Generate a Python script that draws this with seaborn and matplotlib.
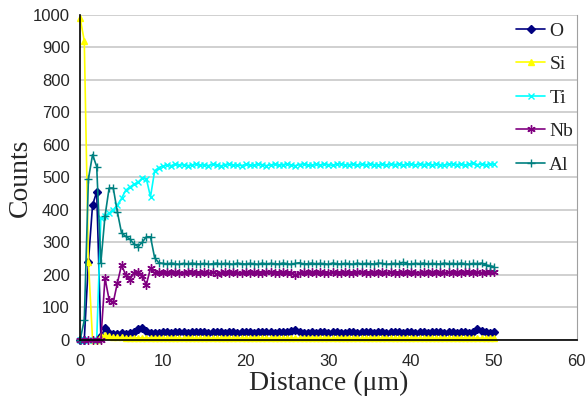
import numpy as np
import pandas as pd
import seaborn as sns
import matplotlib.pyplot as plt

# Line scan data, step 0.5 um
distance = [0.0, 0.5, 1.0, 1.5, 2.0, 2.5, 3.0, 3.5, 4.0, 4.5,
            5.0, 5.5, 6.0, 6.5, 7.0, 7.5, 8.0, 8.5, 9.0, 9.5,
            10.0, 10.5, 11.0, 11.5, 12.0, 12.5, 13.0, 13.5, 14.0, 14.5,
            15.0, 15.5, 16.0, 16.5, 17.0, 17.5, 18.0, 18.5, 19.0, 19.5,
            20.0, 20.5, 21.0, 21.5, 22.0, 22.5, 23.0, 23.5, 24.0, 24.5,
            25.0, 25.5, 26.0, 26.5, 27.0, 27.5, 28.0, 28.5, 29.0, 29.5,
            30.0, 30.5, 31.0, 31.5, 32.0, 32.5, 33.0, 33.5, 34.0, 34.5,
            35.0, 35.5, 36.0, 36.5, 37.0, 37.5, 38.0, 38.5, 39.0, 39.5,
            40.0, 40.5, 41.0, 41.5, 42.0, 42.5, 43.0, 43.5, 44.0, 44.5,
            45.0, 45.5, 46.0, 46.5, 47.0, 47.5, 48.0, 48.5, 49.0, 49.5,
            50.0]

O = [0, 0, 240, 415, 455, 10, 35, 20, 18, 18,
     20, 18, 22, 25, 32, 35, 28, 22, 20, 22,
     23, 24, 22, 25, 23, 24, 22, 23, 25, 24,
     23, 22, 24, 23, 25, 22, 23, 24, 22, 23,
     24, 23, 22, 24, 23, 25, 23, 22, 24, 23,
     24, 26, 30, 25, 22, 21, 23, 22, 24, 23,
     22, 24, 23, 22, 21, 23, 24, 22, 23, 25,
     23, 22, 24, 23, 22, 24, 23, 25, 22, 23,
     24, 22, 23, 24, 22, 23, 25, 23, 22, 24,
     23, 22, 24, 23, 22, 25, 32, 26, 23, 22,
     23]

Si = [990, 920, 240, 0, 0, 12, 14, 10, 8, 7,
      7, 6, 6, 5, 6, 5, 5, 6, 5, 5,
      5, 4, 5, 6, 5, 4, 5, 5, 4, 5,
      4, 5, 5, 4, 5, 6, 5, 4, 5, 5,
      5, 4, 5, 5, 4, 5, 5, 6, 4, 5,
      4, 5, 5, 4, 5, 5, 6, 5, 4, 5,
      5, 4, 5, 5, 6, 4, 5, 5, 4, 5,
      5, 5, 4, 5, 6, 5, 4, 5, 5, 4,
      5, 6, 5, 4, 5, 5, 4, 5, 6, 5,
      4, 5, 5, 6, 5, 4, 5, 5, 4, 5,
      5]

Ti = [0, 0, 0, 0, 0, 375, 380, 390, 400, 415,
      435, 460, 470, 478, 485, 498, 495, 440, 520, 530,
      535, 538, 536, 540, 537, 539, 536, 538, 541, 537,
      539, 536, 540, 538, 535, 539, 541, 537, 538, 536,
      540, 538, 537, 541, 539, 536, 538, 540, 537, 539,
      541, 538, 536, 539, 542, 538, 537, 540, 538, 541,
      539, 537, 540, 542, 538, 539, 541, 537, 540, 538,
      542, 539, 538, 541, 537, 540, 539, 542, 538, 540,
      541, 538, 540, 539, 542, 538, 541, 539, 537, 540,
      542, 539, 541, 538, 540, 543, 539, 541, 538, 542,
      540]

Nb = [0, 0, 0, 0, 0, 0, 190, 123, 115, 175,
      230, 200, 185, 205, 210, 195, 170, 220, 205, 208,
      205, 207, 204, 208, 206, 205, 209, 207, 204, 206,
      208, 205, 207, 203, 206, 208, 205, 207, 206, 204,
      207, 205, 208, 206, 204, 207, 209, 205, 206, 208,
      204, 206, 200, 205, 208, 206, 207, 205, 209, 206,
      205, 207, 206, 204, 208, 206, 205, 207, 209, 206,
      204, 207, 205, 208, 206, 207, 205, 204, 208, 206,
      207, 205, 206, 209, 204, 207, 206, 208, 205, 207,
      206, 208, 205, 207, 209, 206, 208, 205, 207, 209,
      210]

Al = [0, 60, 495, 570, 533, 237, 380, 467, 467, 393,
      329, 318, 310, 295, 287, 300, 317, 317, 252, 237,
      235, 233, 236, 234, 232, 235, 233, 236, 234, 233,
      235, 232, 234, 236, 233, 235, 234, 232, 236, 234,
      233, 235, 234, 232, 236, 233, 235, 234, 233, 236,
      234, 232, 235, 237, 233, 234, 236, 233, 235, 234,
      232, 236, 234, 233, 235, 234, 232, 236, 233, 235,
      234, 233, 236, 235, 232, 234, 235, 233, 238, 234,
      233, 235, 234, 236, 232, 235, 234, 233, 236, 234,
      235, 233, 236, 234, 232, 235, 234, 236, 230, 228,
      225]

elements = ['O', 'Si', 'Ti', 'Nb', 'Al']
colors = {'O': '#000080', 'Si': '#FFFF00', 'Ti': '#00FFFF', 'Nb': '#800080', 'Al': '#008080'}
markers = {'O': 'D', 'Si': '^', 'Ti': 'x', 'Nb': (6, 2, 0), 'Al': '+'}
msizes = {'O': 4.5, 'Si': 5, 'Ti': 5, 'Nb': 6, 'Al': 6}

series = {'O': O, 'Si': Si, 'Ti': Ti, 'Nb': Nb, 'Al': Al}

sns.set_style('white')
fig = plt.figure(figsize=(5.85, 4.03), dpi=100)
ax = fig.add_axes([0.137, 0.157, 0.849, 0.806])

ax.set_axisbelow(True)
ax.yaxis.grid(True, color='#c8c8c8', linewidth=1.2)

# one call per element, markers differ in kind
for el in elements:
    d = pd.DataFrame({'Distance': distance, 'Counts': series[el]})
    sns.lineplot(data=d, x='Distance', y='Counts', color=colors[el], label=el,
                 marker=markers[el], markersize=msizes[el], markeredgewidth=1.0,
                 markeredgecolor=colors[el], linewidth=1.2, clip_on=False, ax=ax)

ax.set_xlim(0, 60)
ax.set_ylim(0, 1000)
ax.set_xticks([0, 10, 20, 30, 40, 50, 60])
ax.set_yticks(range(0, 1001, 100))
for lab in ax.get_xticklabels() + ax.get_yticklabels():
    lab.set_family('Liberation Sans')
    lab.set_fontsize(12)
ax.tick_params(axis='x', pad=7)
ax.tick_params(axis='y', pad=4)

ax.set_xlabel('Distance (\u03bcm)', family='Liberation Serif', fontsize=20, labelpad=1)
ax.set_ylabel('Counts', family='Liberation Serif', fontsize=20, labelpad=0)

for side in ['left', 'bottom']:
    ax.spines[side].set_color('black')
    ax.spines[side].set_linewidth(1.2)
ax.spines['top'].set_visible(False)
ax.spines['right'].set_color('#a0a0a0')

leg = ax.legend(loc='upper right', bbox_to_anchor=(1.02, 1.02), frameon=False,
                prop={'family': 'Liberation Serif', 'size': 14},
                labelspacing=0.82, handlelength=1.5, handletextpad=0.2,
                borderaxespad=0.3)

plt.savefig('out.png', dpi=100)
